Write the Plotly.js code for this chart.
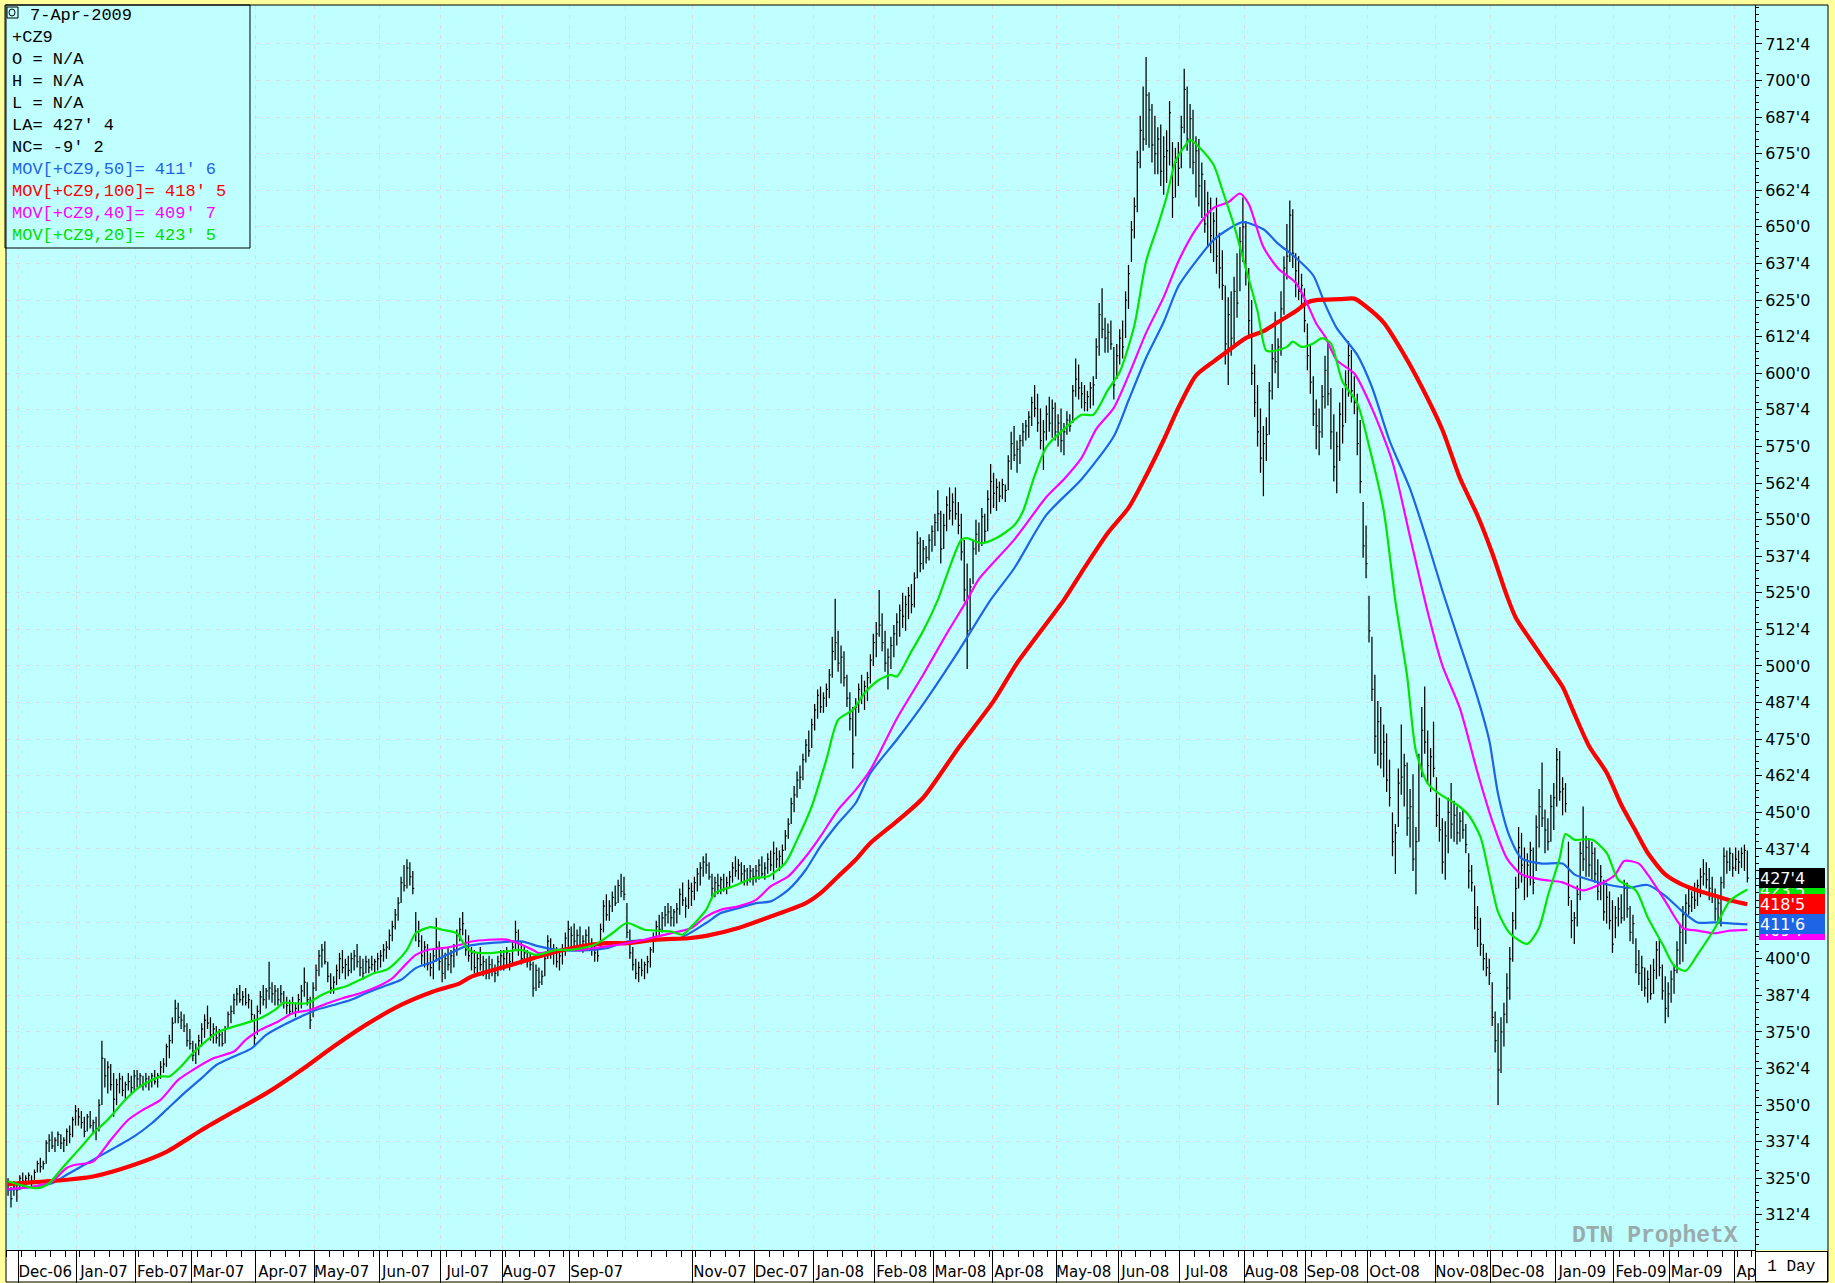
<!DOCTYPE html>
<html><head><meta charset="utf-8">
<script src="https://cdn.plot.ly/plotly-3.0.1.min.js"></script>
<style>html,body{margin:0;padding:0;background:#ffff9c;}#chart{width:1835px;height:1283px;}</style>
</head><body><div id="chart"></div>
<script>
// ---- month calendar (trading days per month) ----
const monthLabels = ['', 'Dec-06','Jan-07','Feb-07','Mar-07','Apr-07','May-07','Jun-07','Jul-07','Aug-07','Sep-07','',
  'Nov-07','Dec-07','Jan-08','Feb-08','Mar-08','Apr-08','May-08','Jun-08','Jul-08','Aug-08','Sep-08','Oct-08',
  'Nov-08','Dec-08','Jan-09','Feb-09','Mar-09','Apr-09'];
const monthDays = [4,20,20,19,22,20,22,21,21,23,19,23,21,20,21,20,20,22,21,21,22,21,21,23,19,22,20,19,22,5];

// ---- daily bars (one line per month) ----
const high = [
325,322,324,323,
326,327,326,327,326,328,331,332,331,338,340,341,339,341,340,339,342,343,346,350,
349,348,346,347,348,345,346,352,372,366,365,364,361,359,361,360,358,361,360,362,
362,361,360,361,360,361,362,361,365,366,371,374,380,386,385,382,381,378,376,
372,371,374,378,381,384,380,378,377,376,375,377,382,384,388,390,391,389,390,388,386,381,
384,389,391,390,399,392,391,390,391,389,387,386,387,385,388,391,397,392,387,392,
398,403,405,406,399,395,394,398,402,403,400,401,402,403,405,401,400,401,400,401,400,402,
403,405,406,410,413,417,421,428,432,434,433,430,416,413,408,406,405,402,403,414,406,
404,402,404,403,405,410,414,416,410,408,404,403,402,404,401,400,401,400,398,401,403,
403,404,402,406,413,410,406,404,403,402,399,398,397,396,402,408,407,405,404,403,405,409,413,
411,412,410,411,408,410,411,407,405,404,412,420,422,420,423,425,427,429,428,
419,410,404,400,399,400,399,401,404,409,413,415,416,418,419,418,417,419,424,426,421,427,426,
428,431,433,435,436,433,429,428,429,428,429,428,430,433,435,434,433,432,431,432,431,
432,434,435,433,436,437,440,438,437,439,444,448,455,459,464,466,470,475,478,482,
487,492,493,491,494,499,510,523,512,507,505,497,491,486,489,494,497,495,498,504,511,
515,526,518,512,506,510,514,518,521,525,524,527,528,532,546,544,543,541,545,548,
552,560,553,552,558,561,559,561,556,552,543,535,530,543,550,549,554,552,560,569,
566,564,563,564,562,572,580,582,577,579,583,584,587,592,596,593,588,584,589,592,591,590,
586,588,583,587,586,596,605,603,597,596,594,597,599,612,624,629,619,617,618,609,610,
615,618,628,637,652,660,676,688,698,708,696,692,688,684,685,681,683,693,679,677,679,
688,704,698,692,690,681,680,672,666,662,660,655,660,648,642,630,626,628,633,641,650,660,
652,636,625,603,596,588,582,585,597,610,621,612,628,640,651,659,656,641,640,634,629,
617,610,599,591,588,596,606,610,595,586,580,590,595,601,611,608,599,593,584,556,548,
524,510,497,488,486,480,477,468,450,446,465,480,470,467,458,463,445,470,486,493,478,472,481,
462,455,448,447,455,460,454,452,450,451,446,436,432,425,418,414,405,402,400,
392,382,378,380,385,395,404,416,428,445,443,438,436,440,438,449,458,467,451,448,456,460,
472,471,462,460,440,420,416,425,440,452,442,441,440,438,434,432,427,426,423,420,
418,421,422,427,426,418,415,407,403,401,397,396,398,400,406,407,398,394,392,
396,398,406,412,418,422,424,423,426,427,431,434,433,431,428,424,421,428,438,437,438,436,
438,437,438,439,437];
const low = [
319,315,319,317,
321,322,322,323,322,323,327,327,328,330,334,335,334,336,335,334,336,337,339,343,
343,342,339,341,342,340,338,341,350,356,354,355,346,350,354,353,352,355,354,355,
356,356,355,356,355,356,357,356,359,361,363,366,371,378,378,376,375,370,369,
365,364,367,370,373,376,372,371,371,370,370,371,376,378,381,384,385,384,384,383,379,370,
374,381,384,383,386,385,384,384,385,383,381,381,381,380,382,383,387,384,376,380,
389,394,397,398,392,388,388,391,393,395,393,394,395,396,397,394,393,395,395,396,395,396,
397,399,400,403,406,410,413,419,423,424,425,422,406,404,398,397,396,394,393,399,396,
392,393,396,395,397,401,406,408,401,399,396,395,395,396,394,393,393,394,392,394,396,
396,397,396,398,403,401,398,399,397,396,387,389,390,391,394,400,400,398,397,396,398,401,403,
404,404,403,403,402,403,404,401,399,399,403,409,413,413,416,418,419,421,420,
407,400,396,393,392,394,393,395,397,402,406,408,409,411,412,411,411,412,415,418,414,417,418,
420,423,425,428,429,427,421,421,422,422,423,422,424,426,428,427,426,425,425,426,425,
426,427,428,427,429,430,427,431,430,432,437,441,446,450,455,458,461,467,469,472,
478,482,484,484,486,489,496,502,498,494,493,486,478,465,476,484,487,485,488,494,500,
503,510,505,498,492,499,503,507,510,513,512,516,518,520,530,532,533,535,536,539,
541,546,535,540,546,550,548,550,545,536,522,499,512,528,538,539,541,542,546,552,
554,553,556,557,556,560,567,570,566,569,575,577,578,582,585,580,574,567,577,580,578,577,
575,573,572,579,580,583,592,591,588,587,587,588,589,598,606,612,607,607,608,591,598,
603,605,612,622,638,646,655,670,676,678,677,672,668,668,664,661,665,671,653,660,664,
670,682,676,670,668,660,657,653,648,643,641,638,634,629,625,603,596,606,610,619,628,638,
630,612,596,585,575,566,558,570,579,591,600,595,606,620,632,638,636,626,625,622,614,
601,593,582,574,572,578,588,589,574,563,559,570,576,583,592,590,586,572,559,537,530,
508,488,470,466,465,462,457,452,435,429,445,456,452,442,438,430,422,440,462,470,460,457,462,
445,440,429,427,436,441,440,439,440,441,436,424,423,410,404,401,396,394,391,
377,368,350,361,370,378,386,399,410,424,426,420,421,425,422,430,438,445,436,437,440,444,
452,454,449,450,418,407,405,411,420,430,428,428,427,426,420,420,413,412,410,402,
407,411,412,413,414,406,405,395,391,389,387,385,386,388,393,394,386,378,380,
385,388,395,398,399,405,415,416,417,418,421,425,424,420,419,413,412,411,424,429,430,428,
430,429,431,430,426];
const close = [
321,318,322,321,
325,324,325,326,324,327,330,329,330,337,338,336,338,340,337,338,341,340,345,348,
346,344,341,346,343,344,342,350,366,360,363,357,352,357,359,355,357,358,356,360,
359,360,357,359,358,360,358,360,363,364,370,372,378,383,380,379,377,372,371,
367,369,372,376,379,378,374,376,373,374,371,376,381,382,386,388,386,387,385,386,381,373,
382,387,386,389,390,388,389,386,388,385,384,382,385,383,386,389,392,386,379,390,
396,401,403,399,394,390,392,396,400,397,398,396,400,401,399,397,395,399,397,398,399,400,
401,403,404,408,411,415,419,426,425,431,428,424,409,406,401,404,398,397,401,404,399,
395,400,398,401,403,408,410,412,403,401,402,397,400,398,399,395,398,396,395,399,401,
400,402,399,404,409,403,400,402,399,398,390,396,392,394,400,406,402,403,399,401,403,407,410,
408,406,408,404,406,408,405,403,402,401,410,418,415,418,421,419,425,423,422,
409,402,398,395,397,396,398,399,403,407,411,410,414,415,416,414,416,417,422,420,418,424,423,
426,429,431,433,432,428,424,426,425,427,424,426,428,431,430,432,429,430,427,430,428,
430,432,429,431,434,432,436,434,435,437,442,446,453,456,461,462,468,473,471,480,
485,490,486,489,492,497,505,508,501,503,496,489,482,470,486,492,490,493,496,502,508,
511,514,508,501,503,507,511,515,519,517,521,524,521,530,542,535,540,537,543,546,
549,552,540,548,555,553,556,552,548,539,526,512,527,540,545,542,551,546,557,563,
559,561,558,562,560,570,576,572,574,577,580,582,585,590,588,583,577,580,586,583,588,580,
583,577,580,584,582,594,598,595,593,590,592,595,596,609,620,615,612,614,610,596,606,
612,609,625,634,649,657,672,683,680,695,690,678,675,680,669,674,676,689,660,672,670,
684,697,680,687,672,676,664,668,651,658,647,652,640,636,630,610,620,612,628,624,645,650,
634,618,600,590,580,571,576,579,594,605,604,609,622,636,640,654,641,635,628,630,618,
606,597,586,582,580,592,601,593,580,568,575,586,582,596,606,594,590,576,563,541,535,
512,492,476,481,470,474,461,455,440,443,460,462,466,448,452,434,440,466,478,474,466,469,465,
449,444,433,442,450,446,449,443,447,444,439,430,426,414,410,405,400,397,395,
380,372,362,375,381,390,400,413,424,438,432,428,432,437,426,445,452,448,444,440,452,455,
468,457,458,453,421,413,414,422,436,434,438,432,436,429,423,428,416,421,413,405,
414,417,414,424,417,409,412,398,395,397,390,393,388,396,403,397,389,383,388,
393,396,403,409,415,419,418,421,420,425,428,429,427,424,422,417,419,426,435,433,436,431,
434,433,436,437,427.5];

// ---- moving averages (bar index, value) ----
const ma50Idx = [0,9,15,20,26,32,37,43,49,54,60,66,71,77,83,88,94,100,105,111,117,122,128,134,139,145,150,156,164,175,181,187,195,204,211,221,229,238,243,249,255,260,266,272,277,283,289,294,303,312,324,335,343,354,366,377,382,388,394,399,405,411,416,421,428,433,439,445,449,453,460,465,471,478,484,489,495,501,505,508,512,516,523,530,534,539,546,553,559,565,571,576,582,588,593];
const ma50Val = [321,322.2,323.3,326.2,329.6,333,335.8,339.3,343.8,348.4,354,359.2,363.7,366.6,369.4,374,377.4,380.3,382.5,384.2,386,388.2,390.5,392.8,396.8,399,401.5,404.2,405.3,405.9,404.2,403,402.8,403.6,405.9,406.5,407,412.2,415.6,417.3,419,419.6,423.5,430.4,438.4,446.3,453.2,463.4,474.8,487,505,522.6,533.3,551.6,563.8,578.5,590.7,605.3,617.5,629.7,638.2,645.5,649.2,651.6,649.2,644.3,639.5,633.4,623.6,615.4,606.3,595.3,577,560.5,542.2,525.8,507.5,489.2,474.6,456.3,441.6,434.3,432.5,432.5,428.8,427,425.2,424.3,425.2,421.5,416,412.4,412.4,412,411.75];

const ma100Idx = [0,7,20,29,43,54,66,77,88,100,111,122,134,145,154,158,170,181,192,204,211,221,232,238,249,260,272,277,283,289,294,303,312,324,336,344,360,366,375,382,388,394,399,405,411,416,422,428,433,439,443,446,454,459,463,469,476,482,489,495,501,506,511,514,520,525,530,534,539,545,550,555,559,565,571,576,582,588,593];
const ma100Val = [323,323.5,324.5,325.6,329.6,334,341.5,347.8,354,362,370,377.4,384.2,388.8,391.6,393.9,397.4,400.8,403.6,405.3,405.3,406.5,407,407.8,410.5,414.4,419,422.4,428.1,433.8,439.5,446.9,455,472,488,501,522.6,532,545.5,554,565,577.2,588.2,599.2,604,607.7,612,614.4,617.5,621.2,624.2,625,625.3,625.5,622.8,617.3,606.3,595.3,580.7,564.2,551.4,538.6,524,516.6,507.5,500.2,492.9,483.7,472.7,463.6,452.6,443.5,436.2,428.8,425.2,423.3,421.5,419.7,418.625];

const ma40Idx = [0,9,15,20,23,29,35,41,46,52,58,63,70,77,81,86,92,97,103,109,114,120,126,131,136,139,143,148,154,158,170,179,181,187,195,204,211,217,226,233,238,243,249,255,260,266,272,277,283,289,294,303,312,320,327,331,343,354,360,366,371,377,382,388,394,399,405,411,416,420,423,428,433,439,443,446,449,453,459,465,472,478,484,489,495,501,506,511,516,523,530,537,544,548,551,556,559,565,571,576,582,587,593];
const ma40Val = [321.3,322.2,323.9,328.5,329.6,330.7,338.1,345,348.4,351.8,358.6,362,366,368.3,372.3,375.7,378.5,381.4,382.5,384.8,386.5,388.2,390.5,393.3,398.5,401.3,403,403.6,404.7,405.9,406.5,403,401.9,403,403,404.2,405.3,406.5,408.7,410.5,414.4,416.7,417.9,420.1,424.7,428.1,434.9,441.8,450.9,457.7,464.5,482,497,511,522.6,529.7,543.1,557.7,563.8,571.1,580.9,588.2,599.2,613.8,626,638.2,649.2,656.5,658.4,661.4,657.8,643.1,635.8,630.9,623.6,617,612.6,604.5,599.9,588,569.7,544.1,518.5,500.2,485.5,463.6,447.1,434.3,428.8,427,426.1,423.3,426.1,428.8,433.4,432.5,428.8,419.7,410.5,409.6,408.7,409.6,409.875];

const ma20Idx = [0,4,10,14,18,21,25,29,34,40,45,52,55,59,63,68,72,77,81,86,91,94,97,102,106,111,115,120,125,129,132,136,139,144,148,153,156,158,164,170,175,180,187,192,200,206,211,217,226,230,233,238,241,247,254,259,265,269,274,279,283,288,292,297,301,303,308,312,317,320,325,327,332,337,343,346,350,354,360,366,370,375,379,384,388,392,395,398,401,403,406,411,414,418,422,426,429,432,436,438,441,445,448,451,455,460,464,469,473,477,480,484,488,494,498,502,505,508,512,518,522,525,529,531,534,540,545,549,555,559,564,568,572,576,582,587,593];
const ma20Val = [324,322.8,321.6,323.3,327.9,331.3,335.8,340.4,345,351.8,356.3,359.8,359.8,363.2,367.7,372.3,375.1,376.8,378,379.7,382.5,385,384.8,384.8,387.1,389.4,390.5,392.8,395.1,396.2,398.5,403,408.7,410.8,409.9,408.7,404.2,402.5,401.9,402.5,403,401.3,403,403,404.8,408.7,412.2,409.9,409.3,408.2,411,416.7,422.4,424.7,427.5,428.1,432.7,440.6,452,468,481.6,485,490.7,495.3,497,496.4,505,512,522.6,530.9,543.1,543.7,541.9,543.7,548,552.8,565,574.8,580.9,585.8,585.8,594.3,600.4,616.3,638.2,650.4,660.2,672.4,677.3,679.7,677.3,671.2,662.6,650.4,635.8,621.2,607.7,607.7,609,610.8,609,610.2,612,610.2,597.1,589.8,575.2,553.2,522.1,496.5,470.9,459.9,456.3,452.6,449,441.6,428.8,416,408.7,405.1,410.6,421.5,434.3,442.6,440.7,440.7,436.2,427,423.3,414.2,405.1,397.7,395.9,401.4,410.6,419.7,423.625];

// ---- price axis ticks ----
const yTickVals = [312.5,325,337.5,350,362.5,375,387.5,400,412.5,425,437.5,450,462.5,475,487.5,500,512.5,525,537.5,550,562.5,575,587.5,600,612.5,625,637.5,650,662.5,675,687.5,700,712.5];
const yTickText = ["312'4","325'0","337'4","350'0","362'4","375'0","387'4","400'0","412'4","425'0","437'4","450'0","462'4","475'0","487'4","500'0","512'4","525'0","537'4","550'0","562'4","575'0","587'4","600'0","612'4","625'0","637'4","650'0","662'4","675'0","687'4","700'0","712'4"];

// ---- info box text ----
const infoLines = ["7-Apr-2009","+CZ9","O = N/A","H = N/A","L = N/A","LA= 427' 4","NC= -9' 2",
  "MOV[+CZ9,50]= 411' 6","MOV[+CZ9,100]= 418' 5","MOV[+CZ9,40]= 409' 7","MOV[+CZ9,20]= 423' 5"];
const infoColors = ['#000','#000','#000','#000','#000','#000','#000','#1e64e6','#ff0000','#ff00ff','#00dd00'];

// ---- last-value tags (value, label, colour) ----
const tagValues = [423.625, 409.875, 427.5, 418.625, 411.75];
const tagLabels = ["423'5","409'7","427'4","418'5","411'6"];
const tagColors = ['#00e600','#ff00ff','#000000','#ff0000','#1e64e6'];

// ================= build =================
const CYAN = '#c0ffff', GRID = '#dcdcdc';
const AXFONT = 'DejaVu Sans, Verdana, sans-serif';
const MONO = 'Liberation Mono, Courier New, monospace';
const px = X => (X - 6) / 1749;
const py = Y => (1250 - Y) / 1245;

const monthStart = []; let acc = 0;
monthDays.forEach(d => { monthStart.push(acc); acc += d; });
const xTickVals = [], xTickText = [];
monthLabels.forEach((lab, i) => { if (lab) { xTickVals.push(monthStart[i] - 0.5); xTickText.push(lab); } });

const bx = [], by = [];
for (let i = 0; i < high.length; i++) {
  bx.push(i, i, null, i, i + 0.5, null);
  by.push(low[i], high[i], null, close[i], close[i], null);
}

const maLine = (c, w) => ({color:c, width:w, shape:'spline', smoothing:0.7});
const traces = [
  {type:'scatter', mode:'lines', x:bx, y:by, line:{color:'#000', width:1.25}, hoverinfo:'skip', connectgaps:false},
  {type:'scatter', mode:'lines', x:ma50Idx, y:ma50Val, line:maLine('#1e64e6', 2.2), hoverinfo:'skip'},
  {type:'scatter', mode:'lines', x:ma100Idx, y:ma100Val, line:maLine('#ff0000', 4.2), hoverinfo:'skip'},
  {type:'scatter', mode:'lines', x:ma40Idx, y:ma40Val, line:maLine('#ff00ff', 2.2), hoverinfo:'skip'},
  {type:'scatter', mode:'lines', x:ma20Idx, y:ma20Val, line:maLine('#00e600', 2.2), hoverinfo:'skip'}
];

const shapes = [
  {type:'rect', xref:'paper', yref:'paper', x0:1, x1:px(1828), y0:0, y1:1, fillcolor:CYAN, line:{width:0}, layer:'below'},
  {type:'rect', xref:'paper', yref:'paper', x0:0, x1:1, y0:py(1282), y1:0, fillcolor:'#ffffff', line:{width:0}, layer:'below'},
  {type:'rect', xref:'paper', yref:'paper', x0:px(5), x1:px(250), y0:py(248), y1:py(5), fillcolor:CYAN, line:{color:'#000', width:1}, layer:'above'},
  {type:'rect', xref:'paper', yref:'paper', x0:px(7), x1:px(18), y0:py(18), y1:py(7), fillcolor:'rgba(0,0,0,0)', line:{color:'#000', width:1}, layer:'above'},
  {type:'circle', xref:'paper', yref:'paper', x0:px(9), x1:px(15), y0:py(16), y1:py(9), fillcolor:'rgba(0,0,0,0)', line:{color:'#000', width:1}, layer:'above'},
  {type:'rect', xref:'paper', yref:'paper', x0:0, x1:px(1828), y0:py(1282), y1:1, fillcolor:'rgba(0,0,0,0)', line:{color:'#000', width:1}, layer:'above'}
];
monthLabels.forEach((lab, i) => {
  if (!lab && i > 0) shapes.push({type:'line', xref:'x', yref:'paper', x0:monthStart[i]-0.5, x1:monthStart[i]-0.5, y0:0, y1:1,
    line:{color:GRID, width:1, dash:'4px,6px'}, layer:'below'});
});

const annotations = [];
infoLines.forEach((t, i) => {
  annotations.push({xref:'paper', yref:'paper', x:px(i === 0 ? 28 : 10), y:py(16 + i * 21.95), xanchor:'left', yanchor:'middle',
    text:t, showarrow:false, font:{family:MONO, size:17, color:infoColors[i]}});
});
tagValues.forEach((v, i) => {
  annotations.push({xref:'paper', yref:'y', x:px(1759), y:v, xanchor:'left', yanchor:'middle', text:tagLabels[i], showarrow:false,
    bgcolor:tagColors[i], borderwidth:0, borderpad:1, width:64, height:18, align:'left',
    font:{family:AXFONT, size:16, color:'#ffffff'}});
});
annotations.push({xref:'paper', yref:'paper', x:1, y:py(1266.5), xanchor:'left', yanchor:'middle', text:'1 Day', showarrow:false,
  bgcolor:'#ffffff', bordercolor:'#000', borderwidth:1, borderpad:0, width:71, height:29,
  font:{family:MONO, size:16, color:'#000'}});
annotations.push({xref:'paper', yref:'paper', x:px(1740), y:py(1236), xanchor:'right', yanchor:'middle', text:'<b>DTN ProphetX</b>', showarrow:false,
  font:{family:MONO, size:23, color:'#9aabab'}});

const layout = {
  width:1835, height:1283,
  margin:{l:6, r:80, t:5, b:33, pad:0},
  paper_bgcolor:'#ffff9c', plot_bgcolor:CYAN,
  showlegend:false, hovermode:false,
  xaxis:{range:[-0.7, 595.6], tickmode:'array', tickvals:xTickVals, ticktext:xTickText,
    ticks:'outside', ticklen:32, tickwidth:1, tickcolor:'#000', ticklabelshift:27, ticklabelstandoff:-24,
    tickfont:{family:AXFONT, size:15, color:'#000'},
    showline:true, linecolor:'#000', linewidth:1, showgrid:true, gridcolor:GRID, griddash:'4px,6px', gridwidth:1,
    zeroline:false, automargin:false, fixedrange:true,
    minor:{ticks:'outside', ticklen:6, tickcolor:'#000', tickwidth:1, dtick:5, tick0:-0.5, showgrid:false}},
  yaxis:{side:'right', range:[300.5, 725.8], tickmode:'array', tickvals:yTickVals, ticktext:yTickText,
    ticks:'outside', ticklen:6, tickwidth:1, tickcolor:'#000',
    tickfont:{family:AXFONT, size:16, color:'#000'},
    showline:true, linecolor:'#000', linewidth:1, showgrid:true, gridcolor:GRID, griddash:'4px,6px', gridwidth:1,
    zeroline:false, automargin:false, fixedrange:true,
    minor:{ticks:'outside', ticklen:3, tickcolor:'#000', tickwidth:1, dtick:2.5, tick0:0, showgrid:false}},
  shapes:shapes, annotations:annotations
};

Plotly.newPlot('chart', traces, layout, {displayModeBar:false, staticPlot:true});
</script>
</body></html>
